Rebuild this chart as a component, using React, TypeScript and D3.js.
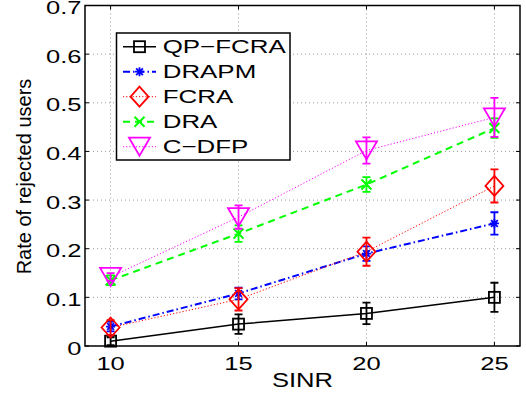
import React from "react";
import * as d3 from "d3";

const sinr = [10, 15, 20, 25];
const seriesNames = ["QP\u2212FCRA", "DRAPM", "FCRA", "DRA", "C\u2212DFP"];
const qpFcra = [0.01, 0.045, 0.067, 0.1];
const qpFcraErr = [0.008, 0.02, 0.022, 0.03];
const drapm = [0.04, 0.108, 0.19, 0.252];
const drapmErr = [0.01, 0.012, 0.015, 0.023];
const fcra = [0.038, 0.096, 0.194, 0.329];
const fcraErr = [0.015, 0.023, 0.029, 0.034];
const dra = [0.135, 0.231, 0.332, 0.448];
const draErr = [0.01, 0.017, 0.015, 0.02];
const cdfp = [0.142, 0.265, 0.402, 0.47];
const cdfpErr = [0.008, 0.024, 0.027, 0.04];
const yTicks = [0, 0.1, 0.2, 0.3, 0.4, 0.5, 0.6, 0.7];
const yTickLabels = ["0", "0.1", "0.2", "0.3", "0.4", "0.5", "0.6", "0.7"];

const FONT = "'Liberation Sans', Arial, Helvetica, sans-serif";
const SX = 1.38;

type Style = { color: string; dash: string; width: number; marker: string };
const styles: Style[] = [
  { color: "#000000", dash: "", width: 1.5, marker: "square" },
  { color: "#0000ff", dash: "7,3,1.5,3", width: 2, marker: "star" },
  { color: "#ff0000", dash: "1.2,2", width: 1, marker: "diamond" },
  { color: "#00ff00", dash: "7,5", width: 2, marker: "x" },
  { color: "#ff00ff", dash: "1.2,2", width: 1, marker: "tri" },
];

function Marker({ kind, cx, cy, color }: { kind: string; cx: number; cy: number; color: string }) {
  const sw = 1.8;
  if (kind === "square") {
    const s = 5.5;
    return <rect x={cx - s} y={cy - s} width={2 * s} height={2 * s} fill="none" stroke={color} strokeWidth={sw} />;
  }
  if (kind === "star") {
    const s = 4.5;
    const d = s * 0.75;
    return (
      <path
        d={`M${cx - s},${cy}H${cx + s}M${cx},${cy - s}V${cy + s}M${cx - d},${cy - d}L${cx + d},${cy + d}M${cx - d},${cy + d}L${cx + d},${cy - d}`}
        stroke={color}
        strokeWidth={sw}
        fill="none"
      />
    );
  }
  if (kind === "diamond") {
    const w = 9, h = 10;
    return <path d={`M${cx},${cy - h}L${cx + w},${cy}L${cx},${cy + h}L${cx - w},${cy}Z`} fill="none" stroke={color} strokeWidth={sw} />;
  }
  if (kind === "x") {
    const s = 5;
    return <path d={`M${cx - s},${cy - s}L${cx + s},${cy + s}M${cx - s},${cy + s}L${cx + s},${cy - s}`} stroke={color} strokeWidth={2} fill="none" />;
  }
  const w = 10.5, h = 9;
  return <path d={`M${cx - w},${cy - h}L${cx + w},${cy - h}L${cx},${cy + h}Z`} fill="none" stroke={color} strokeWidth={sw} />;
}

export default function App() {
  const W = 526, H = 397;
  const left = 85, right = 520, top = 5.5, bottom = 346;
  const x = d3.scaleLinear().domain([9, 26]).range([left, right]);
  const y = d3.scaleLinear().domain([0, 0.7]).range([bottom, top]);
  const data = [qpFcra, drapm, fcra, dra, cdfp];
  const errs = [qpFcraErr, drapmErr, fcraErr, draErr, cdfpErr];
  const line = d3
    .line<number>()
    .x((_, i) => x(sinr[i]))
    .y((d) => y(d));

  const legX = 116.5, legY = 33, legW = 173.5, legH = 127;

  return (
    <svg width={W} height={H} style={{ position: "absolute", left: 0, top: 0, background: "#fff" }} fontFamily={FONT}>
      <rect x={0} y={0} width={W} height={H} fill="#fff" />
      {/* grid */}
      {sinr.map((v) => (
        <line key={"gx" + v} x1={x(v)} x2={x(v)} y1={top} y2={bottom} stroke="#999" strokeWidth={1} strokeDasharray="1,3" />
      ))}
      {yTicks.slice(1, -1).map((v) => (
        <line key={"gy" + v} x1={left} x2={right} y1={y(v)} y2={y(v)} stroke="#999" strokeWidth={1} strokeDasharray="1,3" />
      ))}
      {/* series lines */}
      {data.map((d, k) => (
        <path key={"l" + k} d={line(d) || ""} fill="none" stroke={styles[k].color} strokeWidth={styles[k].width} strokeDasharray={styles[k].dash} />
      ))}
      {/* error bars and markers */}
      {data.map((d, k) => (
        <g key={"e" + k}>
          {d.map((v, i) => {
            const cx = x(sinr[i]);
            const y1 = y(v + errs[k][i]);
            const y2 = y(v - errs[k][i]);
            return (
              <g key={i}>
                <path d={`M${cx},${y1}V${y2}M${cx - 4},${y1}H${cx + 4}M${cx - 4},${y2}H${cx + 4}`} stroke={styles[k].color} strokeWidth={1.8} fill="none" />
                <Marker kind={styles[k].marker} cx={cx} cy={y(v)} color={styles[k].color} />
              </g>
            );
          })}
        </g>
      ))}
      {/* axes box */}
      <rect x={left} y={top} width={right - left} height={bottom - top} fill="none" stroke="#000" strokeWidth={1.5} />
      {sinr.map((v) => (
        <g key={"tx" + v}>
          <line x1={x(v)} x2={x(v)} y1={bottom} y2={bottom - 4} stroke="#000" />
          <line x1={x(v)} x2={x(v)} y1={top} y2={top + 4} stroke="#000" />
          <text transform={`translate(${x(v)},${bottom + 24}) scale(${SX},1)`} textAnchor="middle" fontSize={18.5}>
            {v}
          </text>
        </g>
      ))}
      {yTicks.map((v, i) => (
        <g key={"ty" + v}>
          <line x1={left} x2={left + 4} y1={y(v)} y2={y(v)} stroke="#000" />
          <line x1={right} x2={right - 4} y1={y(v)} y2={y(v)} stroke="#000" />
          <text transform={`translate(${left - 3.5},${y(v) + 8.6}) scale(${SX},1)`} textAnchor="end" fontSize={18.5}>
            {yTickLabels[i]}
          </text>
        </g>
      ))}
      <text transform={`translate(${x(17.5)},387) scale(1.28,1)`} textAnchor="middle" fontSize={20}>
        SINR
      </text>
      <text transform={`translate(30.5,176.5) rotate(-90)`} textAnchor="middle" fontSize={20}>
        Rate of rejected users
      </text>
      {/* legend */}
      <rect x={legX} y={legY} width={legW} height={legH} fill="#fff" stroke="#000" strokeWidth={1.5} />
      {seriesNames.map((name, k) => {
        const ly = 46.7 + k * 25;
        return (
          <g key={"lg" + k}>
            <line x1={123} x2={156} y1={ly} y2={ly} stroke={styles[k].color} strokeWidth={styles[k].width} strokeDasharray={styles[k].dash} />
            <Marker kind={styles[k].marker} cx={139.5} cy={ly} color={styles[k].color} />
            <text transform={`translate(162.7,${ly + 6.3}) scale(1.4,1)`} fontSize={18.5}>
              {name}
            </text>
          </g>
        );
      })}
    </svg>
  );
}
